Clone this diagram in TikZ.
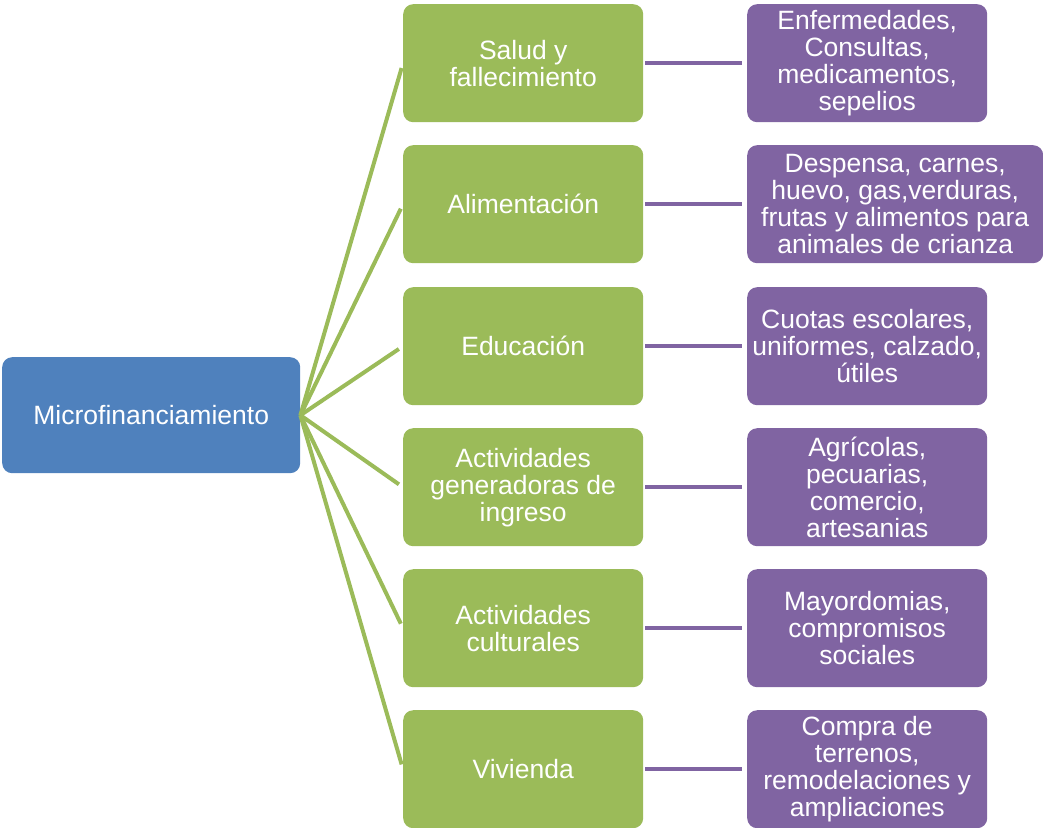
\documentclass[tikz,border=0pt]{standalone}
\usepackage{fontspec}
\setmainfont{Liberation Sans}
\definecolor{cblue}{HTML}{4F81BD}
\definecolor{cgreen}{HTML}{9BBB59}
\definecolor{cpurple}{HTML}{8064A2}
\begin{document}
\begin{tikzpicture}[x=1pt,y=-1pt,
  box/.style={rounded corners=10pt, text=white, align=center,
    font=\fontsize{26.5}{27}\selectfont, inner sep=0pt, anchor=north west,
    minimum height=118pt},
  rootbox/.style={box, fill=cblue, minimum width=298pt, minimum height=116pt},
  catbox/.style={box, fill=cgreen, minimum width=240pt},
  itembox/.style={box, fill=cpurple, minimum width=240pt},
  fanline/.style={draw=cgreen, line width=4pt, shorten >=5pt},
  linkline/.style={draw=cpurple, line width=4pt, shorten <=2pt, shorten >=5pt}]
\useasboundingbox (0,0) rectangle (1043,827);

\node[rootbox] (root) at (2,357) {Microfinanciamiento};

\node[catbox] (g1) at (403,4)   {Salud y\\fallecimiento};
\node[catbox] (g2) at (403,145) {Alimentación};
\node[catbox] (g3) at (403,287) {Educación};
\node[catbox] (g4) at (403,428) {Actividades\\generadoras de\\ingreso};
\node[catbox] (g5) at (403,569) {Actividades\\culturales};
\node[catbox] (g6) at (403,710) {Vivienda};

\node[itembox] (p1) at (747,4)   {Enfermedades,\\Consultas,\\medicamentos,\\sepelios};
\node[itembox, minimum width=296pt] (p2) at (747,145) {Despensa, carnes,\\huevo, gas,verduras,\\frutas y alimentos para\\animales de crianza};
\node[itembox] (p3) at (747,287) {Cuotas escolares,\\uniformes, calzado,\\útiles};
\node[itembox] (p4) at (747,428) {Agrícolas,\\pecuarias,\\comercio,\\artesanias};
\node[itembox] (p5) at (747,569) {Mayordomias,\\compromisos\\sociales};
\node[itembox] (p6) at (747,710) {Compra de\\terrenos,\\remodelaciones y\\ampliaciones};

\foreach \i in {1,...,6} {
  \draw[fanline] (root.east) -- (g\i.west);
  \draw[linkline] (g\i.east) -- (p\i.west);
}
\end{tikzpicture}
\end{document}
